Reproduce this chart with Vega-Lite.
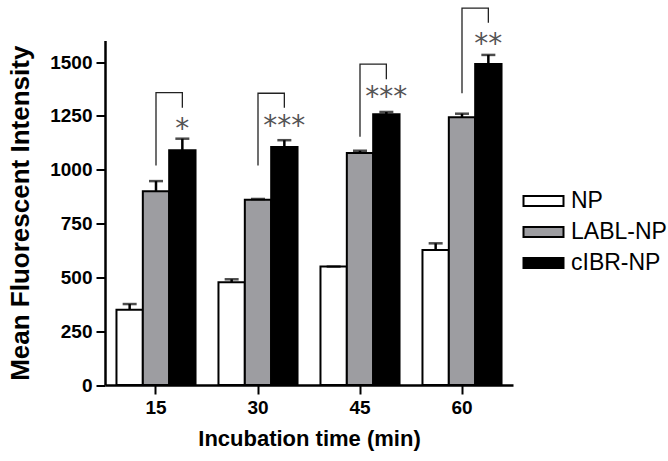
{
  "$schema": "https://vega.github.io/schema/vega-lite/v6.json",
  "width": 408,
  "height": 344.5,
  "autosize": {"type": "none"},
  "padding": {"left": 105, "top": 40.5, "right": 155, "bottom": 76},
  "config": {
    "view": {"stroke": null},
    "font": "Liberation Sans",
    "axis": {
      "domainColor": "black", "domainWidth": 2.5, "tickColor": "black", "tickWidth": 2, "tickSize": 9,
      "labelFont": "Liberation Sans", "labelFontWeight": "bold", "labelFontSize": 19, "labelColor": "black",
      "titleFont": "Liberation Sans", "titleFontWeight": "bold", "titleColor": "black", "grid": false
    },
    "legend": {
      "orient": "none", "legendX": 427, "legendY": 149, "padding": 0,
      "symbolType": "M-2,-0.5L2,-0.5L2,0.5L-2,0.5Z", "symbolSize": 400,
      "symbolStrokeColor": "black", "symbolStrokeWidth": 2,
      "labelFont": "Liberation Sans", "labelFontSize": 23, "labelColor": "black", "labelOffset": 16, "rowPadding": 7
    }
  },
  "datasets": {
    "bars": [
      {"time": 15, "series": "NP", "mean": 350, "upper": 376},
      {"time": 15, "series": "LABL-NP", "mean": 900, "upper": 947},
      {"time": 15, "series": "cIBR-NP", "mean": 1090, "upper": 1144},
      {"time": 30, "series": "NP", "mean": 477, "upper": 491},
      {"time": 30, "series": "LABL-NP", "mean": 860, "upper": 864},
      {"time": 30, "series": "cIBR-NP", "mean": 1105, "upper": 1137},
      {"time": 45, "series": "NP", "mean": 550, "upper": 550},
      {"time": 45, "series": "LABL-NP", "mean": 1078, "upper": 1088},
      {"time": 45, "series": "cIBR-NP", "mean": 1257, "upper": 1268},
      {"time": 60, "series": "NP", "mean": 627, "upper": 658},
      {"time": 60, "series": "LABL-NP", "mean": 1243, "upper": 1260},
      {"time": 60, "series": "cIBR-NP", "mean": 1491, "upper": 1533}
    ],
    "brackets": [
      {"time": 15, "series": "LABL-NP", "step": 1, "y": 1019},
      {"time": 15, "series": "LABL-NP", "step": 2, "y": 1358},
      {"time": 15, "series": "cIBR-NP", "step": 3, "y": 1358},
      {"time": 15, "series": "cIBR-NP", "step": 4, "y": 1288},
      {"time": 30, "series": "LABL-NP", "step": 1, "y": 1019},
      {"time": 30, "series": "LABL-NP", "step": 2, "y": 1355},
      {"time": 30, "series": "cIBR-NP", "step": 3, "y": 1355},
      {"time": 30, "series": "cIBR-NP", "step": 4, "y": 1288},
      {"time": 45, "series": "LABL-NP", "step": 1, "y": 1153},
      {"time": 45, "series": "LABL-NP", "step": 2, "y": 1490},
      {"time": 45, "series": "cIBR-NP", "step": 3, "y": 1490},
      {"time": 45, "series": "cIBR-NP", "step": 4, "y": 1420},
      {"time": 60, "series": "LABL-NP", "step": 1, "y": 1355},
      {"time": 60, "series": "LABL-NP", "step": 2, "y": 1750},
      {"time": 60, "series": "cIBR-NP", "step": 3, "y": 1750},
      {"time": 60, "series": "cIBR-NP", "step": 4, "y": 1683}
    ],
    "stars": [
      {"time": 15, "series": "cIBR-NP", "y": 1223, "label": "*"},
      {"time": 30, "series": "cIBR-NP", "y": 1234, "label": "***"},
      {"time": 45, "series": "cIBR-NP", "y": 1370, "label": "***"},
      {"time": 60, "series": "cIBR-NP", "y": 1618, "label": "**"}
    ]
  },
  "encoding": {
    "x": {
      "field": "time", "type": "ordinal",
      "scale": {"paddingInner": 0.225, "paddingOuter": 0.1125},
      "axis": {"title": "Incubation time (min)", "labelAngle": 0, "labelPadding": 4, "titleFontSize": 22, "titlePadding": 11}
    },
    "xOffset": {
      "field": "series", "type": "nominal",
      "sort": ["NP", "LABL-NP", "cIBR-NP"],
      "scale": {"domain": ["NP", "LABL-NP", "cIBR-NP"], "paddingInner": 0, "paddingOuter": 0}
    }
  },
  "layer": [
    {
      "data": {"name": "bars"},
      "mark": {"type": "bar", "stroke": "black", "strokeWidth": 2},
      "encoding": {
        "y": {
          "field": "mean", "type": "quantitative",
          "scale": {"domain": [0, 1600], "nice": false},
          "axis": {"title": "Mean Fluorescent Intensity", "format": "d", "values": [0, 250, 500, 750, 1000, 1250, 1500], "labelPadding": 4, "titleFontSize": 26, "titlePadding": 16}
        },
        "fill": {
          "field": "series", "type": "nominal",
          "scale": {"domain": ["NP", "LABL-NP", "cIBR-NP"], "range": ["white", "#9d9da1", "black"]},
          "legend": {"title": null}
        }
      }
    },
    {
      "data": {"name": "bars"},
      "mark": {"type": "rule", "color": "black", "strokeWidth": 2.5},
      "encoding": {
        "y": {"field": "mean", "type": "quantitative"},
        "y2": {"field": "upper"}
      }
    },
    {
      "data": {"name": "bars"},
      "mark": {"type": "tick", "color": "black", "size": 14, "thickness": 2.5},
      "encoding": {
        "y": {"field": "upper", "type": "quantitative"}
      }
    },
    {
      "data": {"name": "brackets"},
      "mark": {"type": "line", "color": "#222222", "strokeWidth": 1.3, "clip": false},
      "encoding": {
        "y": {"field": "y", "type": "quantitative"},
        "detail": {"field": "time", "type": "ordinal"},
        "order": {"field": "step", "type": "quantitative"}
      }
    },
    {
      "data": {"name": "stars"},
      "mark": {"type": "text", "font": "DejaVu Sans", "color": "#555555", "fontSize": 28, "baseline": "alphabetic", "dy": 16, "clip": false},
      "encoding": {
        "y": {"field": "y", "type": "quantitative"},
        "text": {"field": "label"}
      }
    }
  ]
}
